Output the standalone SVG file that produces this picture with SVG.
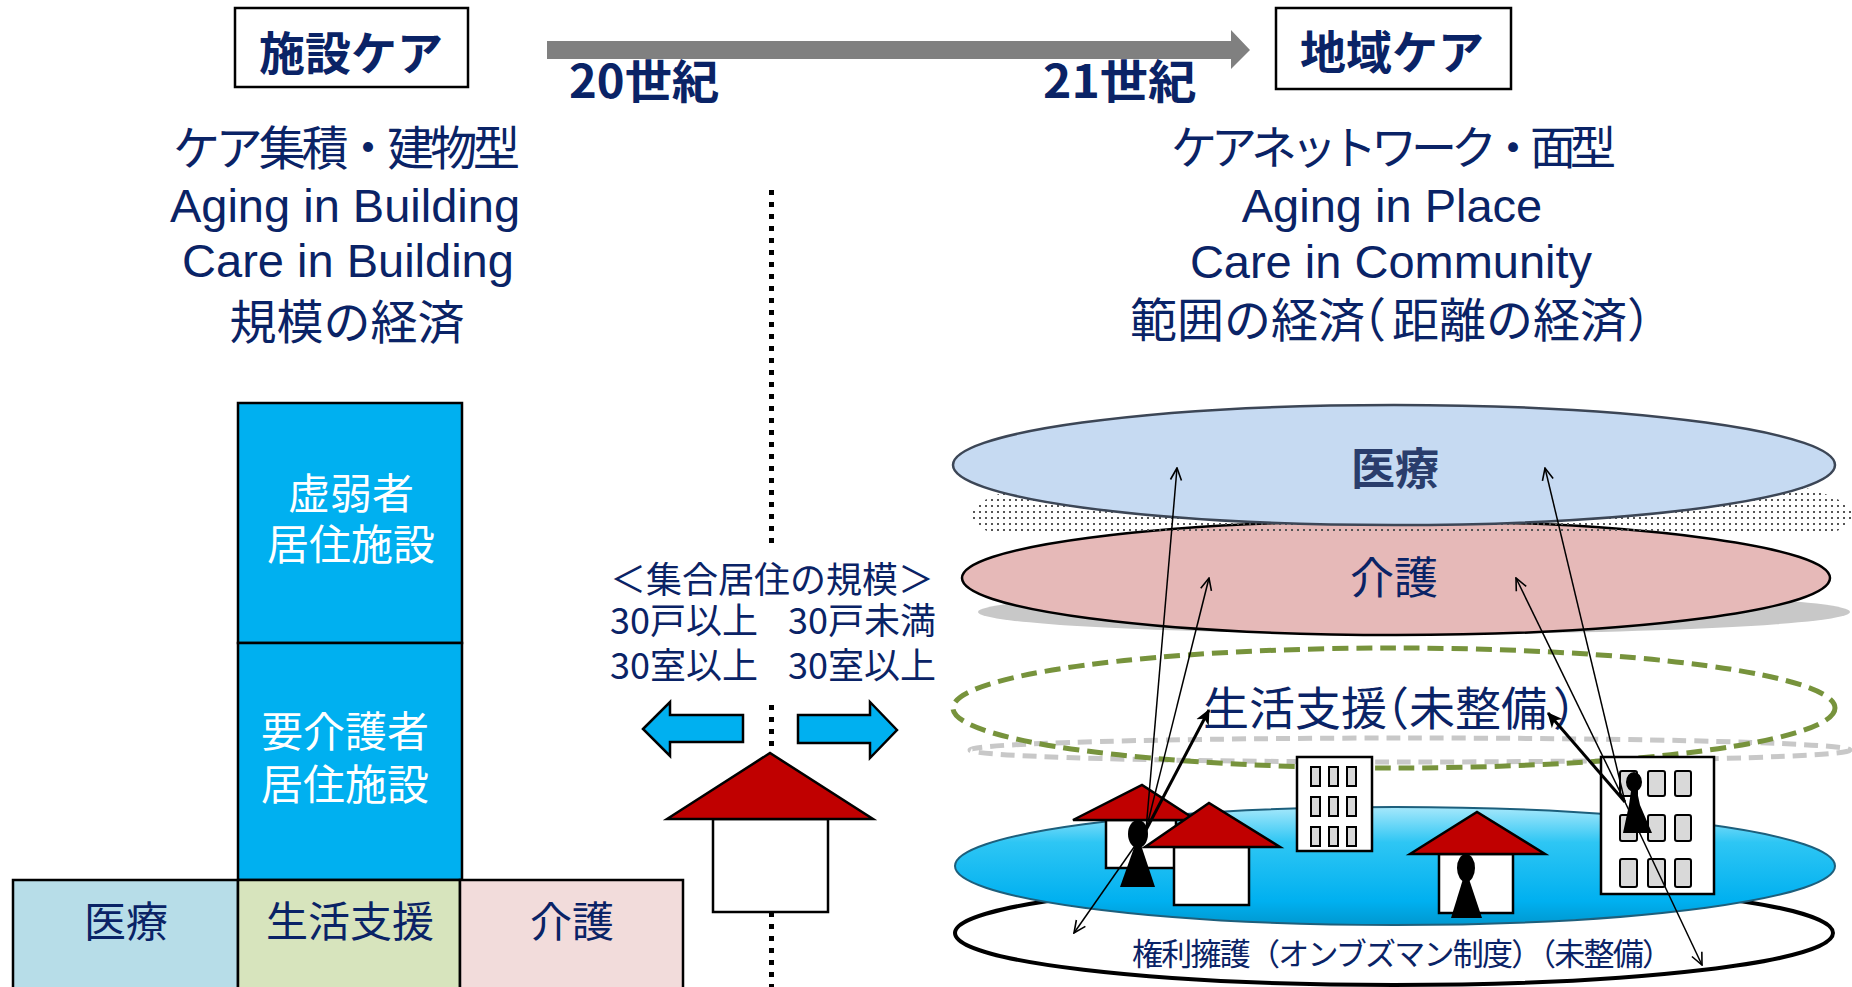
<svg xmlns="http://www.w3.org/2000/svg" width="1852" height="987" viewBox="0 0 1852 987">
  <style>
    .jp { font-family: "Noto Sans CJK JP", "Noto Sans CJK SC", sans-serif; }
    .en { font-family: "Liberation Sans", Arial, sans-serif; }
    .navy { fill: #0a2366; }
    .white { fill: #ffffff; }
    .bold { font-weight: 700; }
    .box { stroke: #000; stroke-width: 2.5; }
    .roof { fill: #c00000; stroke: #000; stroke-width: 2.5; stroke-linejoin: miter; }
    .wall { fill: #fff; stroke: #000; stroke-width: 2.5; }
    .win { fill: #d9d9d9; stroke: #000; stroke-width: 2; }
    .thin { stroke: #000; stroke-width: 1.5; fill: none; marker-end: url(#openHead); }
    .thick { stroke: #000; stroke-width: 3; fill: none; marker-end: url(#solidHead); }
    .dots { stroke: #000; stroke-width: 5; stroke-dasharray: 5 7; }
  </style>
  <defs>
    <marker id="openHead" viewBox="0 0 14 14" refX="13" refY="7" markerWidth="14" markerHeight="14" markerUnits="userSpaceOnUse" orient="auto">
      <path d="M1,1.5 L13,7 L1,12.5" fill="none" stroke="#000" stroke-width="1.6"/>
    </marker>
    <marker id="solidHead" viewBox="0 0 16 16" refX="14" refY="8" markerWidth="16" markerHeight="16" markerUnits="userSpaceOnUse" orient="auto">
      <path d="M0,1 L15,8 L0,15 L4,8 Z" fill="#000"/>
    </marker>
    <pattern id="stipple" width="6" height="6" patternUnits="userSpaceOnUse">
      <rect x="1" y="1" width="2" height="2" fill="#555"/>
    </pattern>
    <clipPath id="shadowClip">
      <rect x="0" y="0" width="1852" height="531"/>
    </clipPath>
    <linearGradient id="ground" x1="0" y1="0" x2="0" y2="1">
      <stop offset="0" stop-color="#a6e8fb"/>
      <stop offset="0.3" stop-color="#2ec6f4"/>
      <stop offset="0.8" stop-color="#00b0f0"/>
      <stop offset="1" stop-color="#0098d0"/>
    </linearGradient>
  </defs>

  <!-- top headings and timeline -->
  <g id="header-institution">
    <rect x="235" y="8" width="233" height="79" fill="#fff" class="box"/>
    <text x="351" y="70" text-anchor="middle" font-size="46" class="jp navy bold">施設ケア</text>
  </g>
  <g id="header-community">
    <rect x="1276" y="8" width="235" height="81" fill="#fff" class="box"/>
    <text x="1392" y="69" text-anchor="middle" font-size="46" class="jp navy bold">地域ケア</text>
  </g>
  <g id="timeline">
    <path d="M547,41 H1231 V30 L1250,50 L1231,69 V59 H547 Z" fill="#808080"/>
    <text x="569" y="98" font-size="46" textLength="150" lengthAdjust="spacingAndGlyphs" class="jp navy bold">20世紀</text>
    <text x="1043" y="98" font-size="46" textLength="153" lengthAdjust="spacingAndGlyphs" class="jp navy bold">21世紀</text>
  </g>

  <!-- descriptive text blocks -->
  <g id="desc-building">
    <text x="173" y="165" font-size="47" textLength="347" lengthAdjust="spacing" class="jp navy">ケア集積・建物型</text>
    <text x="345" y="222" text-anchor="middle" font-size="47" class="en navy">Aging in Building</text>
    <text x="348" y="277" text-anchor="middle" font-size="47" class="en navy">Care in Building</text>
    <text x="347" y="339" text-anchor="middle" font-size="47" class="jp navy">規模の経済</text>
  </g>
  <g id="desc-community">
    <text x="1171" y="164" font-size="46" textLength="445" lengthAdjust="spacing" class="jp navy">ケアネットワーク・面型</text>
    <text x="1392" y="222" text-anchor="middle" font-size="47" class="en navy">Aging in Place</text>
    <text x="1391" y="278" text-anchor="middle" font-size="47" class="en navy">Care in Community</text>
    <text x="1130" y="337" font-size="47" class="jp navy">範囲の経済<tspan dx="-26">（</tspan><tspan dx="6">距離の経済</tspan>）</text>
  </g>

  <!-- stacked facility blocks -->
  <g id="block-frail">
    <rect x="238" y="403" width="224" height="240" fill="#00b0f0" class="box"/>
    <text x="351" y="509" text-anchor="middle" font-size="42" class="jp white">虚弱者</text>
    <text x="351" y="560" text-anchor="middle" font-size="42" class="jp white">居住施設</text>
  </g>
  <g id="block-nursing">
    <rect x="238" y="643" width="224" height="237" fill="#00b0f0" class="box"/>
    <text x="345" y="747" text-anchor="middle" font-size="42" class="jp white">要介護者</text>
    <text x="345" y="800" text-anchor="middle" font-size="42" class="jp white">居住施設</text>
  </g>
  <g id="block-medical">
    <rect x="13" y="880" width="225" height="110" fill="#b7dde8" class="box"/>
    <text x="126" y="937" text-anchor="middle" font-size="42" class="jp navy">医療</text>
  </g>
  <g id="block-living">
    <rect x="238" y="880" width="222" height="110" fill="#d7e4bd" class="box"/>
    <text x="350" y="937" text-anchor="middle" font-size="42" class="jp navy">生活支援</text>
  </g>
  <g id="block-care">
    <rect x="460" y="880" width="223" height="110" fill="#f2dcdb" class="box"/>
    <text x="572" y="937" text-anchor="middle" font-size="42" class="jp navy">介護</text>
  </g>

  <!-- dividing line -->
  <g id="divider">
    <line x1="771.5" y1="190" x2="771.5" y2="545" class="dots"/>
    <line x1="771.5" y1="705" x2="771.5" y2="750" class="dots"/>
    <line x1="771.5" y1="912" x2="771.5" y2="987" class="dots"/>
  </g>

  <!-- housing scale labels -->
  <g id="scale-label">
    <text x="610" y="593" font-size="36" class="jp navy">＜集合居住の規模＞</text>
    <text x="610" y="634" font-size="36" class="jp navy">30戸以上</text>
    <text x="788" y="634" font-size="36" class="jp navy">30戸未満</text>
    <text x="610" y="679" font-size="36" class="jp navy">30室以上</text>
    <text x="788" y="679" font-size="36" class="jp navy">30室以上</text>
  </g>
  <g id="scale-arrows">
    <path d="M643,729 L670,702 L670,715 L743,715 L743,742 L670,742 L670,756 Z" fill="#00b0f0" class="box"/>
    <path d="M897,730 L870,702 L870,715 L798,715 L798,743 L870,743 L870,758 Z" fill="#00b0f0" class="box"/>
  </g>
  <g id="house-center">
    <rect x="713" y="819" width="115" height="93" class="wall"/>
    <path d="M667,819 L770,753 L873,819 Z" class="roof"/>
  </g>

  <!-- community care layers -->
  <g id="layer-care">
    <ellipse cx="1414" cy="612" rx="436" ry="22" fill="#c8c8c8"/>
    <ellipse cx="1396" cy="578" rx="434" ry="57" fill="#e6b9b8" stroke="#000" stroke-width="2.5"/>
    <text x="1394" y="594" text-anchor="middle" font-size="44" class="jp navy">介護</text>
  </g>
  <g id="layer-medical">
    <ellipse cx="1412" cy="515" rx="441" ry="60" fill="url(#stipple)" clip-path="url(#shadowClip)"/>
    <ellipse cx="1394" cy="465" rx="441" ry="60" fill="#c6daf2" stroke="#3c4656" stroke-width="2.5"/>
    <text x="1395" y="485" text-anchor="middle" font-size="44" fill="#2a3d6c" class="jp bold">医療</text>
  </g>
  <g id="layer-living">
    <ellipse cx="1410" cy="750" rx="440" ry="12" fill="none" stroke="#c8c8c8" stroke-width="5" stroke-dasharray="14 8"/>
    <ellipse cx="1394" cy="708" rx="441" ry="60" fill="none" stroke="#77933c" stroke-width="5" stroke-dasharray="16 8"/>
    <text x="1203" y="725" font-size="46" class="jp navy">生活支援<tspan dx="-24">（</tspan>未整備<tspan dx="6">）</tspan></text>
  </g>
  <g id="layer-rights">
    <ellipse cx="1394" cy="933" rx="439" ry="52" fill="#fff" stroke="#000" stroke-width="4"/>
    <text x="1132" y="965" font-size="31" textLength="541" lengthAdjust="spacing" class="jp navy">権利擁護（オンブズマン制度）（未整備）</text>
  </g>
  <g id="layer-ground">
    <ellipse cx="1395" cy="866" rx="440" ry="59" fill="url(#ground)" stroke="#1d5f7c" stroke-width="2"/>
  </g>

  <!-- dwellings -->
  <g id="house-a">
    <rect x="1106" y="820" width="70" height="48" class="wall"/>
    <path d="M1073,820 L1142,785 L1196,820 Z" class="roof"/>
  </g>
  <g id="resident-a">
    <ellipse cx="1138" cy="834" rx="10" ry="14" fill="#000"/>
    <path d="M1135,845 L1141,845 L1155,887 L1120,887 Z" fill="#000"/>
  </g>
  <g id="house-b">
    <rect x="1174" y="847" width="75" height="58" class="wall"/>
    <path d="M1145,847 L1209,803 L1280,847 Z" class="roof"/>
  </g>
  <g id="apartment-a">
    <rect x="1297" y="757" width="75" height="94" class="wall"/>
    <rect x="1311" y="767" width="9" height="19" class="win"/>
    <rect x="1329" y="767" width="9" height="19" class="win"/>
    <rect x="1347" y="767" width="9" height="19" class="win"/>
    <rect x="1311" y="797" width="9" height="19" class="win"/>
    <rect x="1329" y="797" width="9" height="19" class="win"/>
    <rect x="1347" y="797" width="9" height="19" class="win"/>
    <rect x="1311" y="827" width="9" height="19" class="win"/>
    <rect x="1329" y="827" width="9" height="19" class="win"/>
    <rect x="1347" y="827" width="9" height="19" class="win"/>
  </g>
  <g id="house-c">
    <rect x="1439" y="854" width="74" height="59" class="wall"/>
    <path d="M1410,854 L1477,812 L1545,854 Z" class="roof"/>
  </g>
  <g id="resident-c">
    <ellipse cx="1466" cy="868" rx="9" ry="14" fill="#000"/>
    <path d="M1463,879 L1469,879 L1482,918 L1451,918 Z" fill="#000"/>
  </g>
  <g id="apartment-b">
    <rect x="1601" y="757" width="113" height="137" class="wall"/>
    <rect x="1620" y="771" width="17" height="25" rx="2" class="win"/>
    <rect x="1648" y="771" width="17" height="25" rx="2" class="win"/>
    <rect x="1675" y="771" width="16" height="25" rx="2" class="win"/>
    <rect x="1620" y="815" width="17" height="26" rx="2" class="win"/>
    <rect x="1648" y="815" width="17" height="26" rx="2" class="win"/>
    <rect x="1675" y="815" width="16" height="26" rx="2" class="win"/>
    <rect x="1620" y="859" width="17" height="28" rx="2" class="win"/>
    <rect x="1648" y="859" width="17" height="28" rx="2" class="win"/>
    <rect x="1675" y="859" width="16" height="28" rx="2" class="win"/>
  </g>
  <g id="resident-b">
    <ellipse cx="1634" cy="782" rx="8" ry="10" fill="#000"/>
    <path d="M1631,791 L1637,791 L1640,805 L1652,833 L1623,833 L1629,805 Z" fill="#000"/>
  </g>

  <!-- service links -->
  <g id="connectors">
    <line x1="1146" y1="830" x2="1177" y2="468" class="thin"/>
    <line x1="1146" y1="830" x2="1209" y2="578" class="thin"/>
    <line x1="1146" y1="830" x2="1209" y2="710" class="thick"/>
    <line x1="1146" y1="830" x2="1074" y2="933" class="thin"/>
    <line x1="1625" y1="802" x2="1545" y2="468" class="thin"/>
    <line x1="1625" y1="802" x2="1516" y2="578" class="thin"/>
    <line x1="1625" y1="802" x2="1548" y2="713" class="thick"/>
    <line x1="1625" y1="802" x2="1702" y2="965" class="thin"/>
  </g>
</svg>
